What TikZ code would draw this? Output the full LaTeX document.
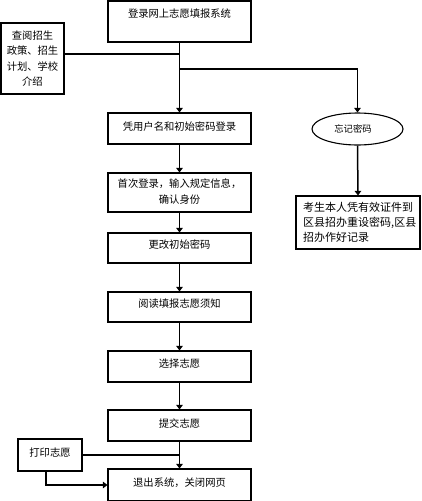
\documentclass[tikz,border=0pt]{standalone}
\usepackage{fontspec}
\setmainfont{Noto Sans CJK SC}
\usetikzlibrary{arrows.meta,shapes.geometric}
\begin{document}
\begin{tikzpicture}[x=1pt,y=-1pt,
  box/.style={draw,line width=1.1pt,inner sep=0pt},
  lbl/.style={font=\fontsize{10.3}{15.5}\selectfont,inner sep=0pt,align=center},
  conn/.style={line width=1.5pt},
  arr/.style={conn,-{Triangle[width=6.5pt,length=4.5pt]}}]
\useasboundingbox (0,0) rectangle (421,501);
% main boxes
\node[box,minimum width=143pt,minimum height=41pt] (b1) at (179.5,21.5) {};
\node[lbl,anchor=center] (t1) at (179.5,14) {登录网上志愿填报系统};
\node[box,minimum width=143pt,minimum height=31pt] (b2) at (179.5,128.5) {};
\node[lbl] (t2) at (179.5,127) {凭用户名和初始密码登录};
\node[box,minimum width=143pt,minimum height=39pt] (b3) at (179.5,192.5) {};
\node[lbl] (t3) at (179.5,191.5) {首次登录，输入规定信息，\\确认身份};
\node[box,minimum width=143pt,minimum height=30pt] (b4) at (179.5,248) {};
\node[lbl] (t4) at (179.5,245) {更改初始密码};
\node[box,minimum width=143pt,minimum height=30pt] (b5) at (179.5,307) {};
\node[lbl] (t5) at (179.5,304) {阅读填报志愿须知};
\node[box,minimum width=143pt,minimum height=31pt] (b6) at (179.5,366.5) {};
\node[lbl] (t6) at (179.5,364) {选择志愿};
\node[box,minimum width=143pt,minimum height=31pt] (b7) at (179.5,425.5) {};
\node[lbl] (t7) at (179.5,423.5) {提交志愿};
\node[box,minimum width=143pt,minimum height=32pt] (b8) at (179.5,485) {};
\node[lbl] (t8) at (179.5,482.5) {退出系统，关闭网页};
% side boxes
\node[box,minimum width=63pt,minimum height=71pt] (lb) at (32.5,58.5) {};
\node[lbl] (lt) at (32.5,58.5) {查阅招生\\政策、招生\\计划、学校\\介绍};
\node[box,minimum width=64pt,minimum height=32pt] (pb) at (50,455) {};
\node[lbl] (pt) at (50,453) {打印志愿};
\node[draw,ellipse,line width=1.1pt,minimum width=91pt,minimum height=32pt,inner sep=0pt] (el) at (357.5,129) {};
\node[lbl,font=\fontsize{9.3}{11}\selectfont] (et) at (353,129) {忘记密码};
\node[box,minimum width=124pt,minimum height=53pt] (rb) at (358,222.5) {};
\node[lbl,align=left,anchor=west,font=\fontsize{11}{15}\selectfont] (rt) at (303,222) {考生本人凭有效证件到\\区县招办重设密码,区县\\招办作好记录};
% connectors
\coordinate (j1) at (b1.south |- 0,54);
\coordinate (j2) at (b1.south |- 0,69);
\coordinate (j3) at (el.north |- 0,69);
\draw[arr] (b1.south) -- (b2.north);
\draw[conn] (lb.east |- j1) -- (j1);
\draw[conn] (j2) -- (j3);
\draw[arr] (j3) -- (el.north);
\draw[arr] (el.south) -- (rb.north);
\draw[arr] (b2.south) -- (b3.north);
\draw[arr] (b3.south) -- (b4.north);
\draw[arr] (b4.south) -- (b5.north);
\draw[arr] (b5.south) -- (b6.north);
\draw[arr] (b6.south) -- (b7.north);
\draw[arr] (b7.south) -- (b8.north);
\coordinate (j4) at (b7.south |- pb.east);
\draw[conn] (pb.east) -- (j4);
\coordinate (j5) at (46,485);
\draw[arr] (46,471) -- (j5) -- (b8.west);
\end{tikzpicture}
\end{document}
